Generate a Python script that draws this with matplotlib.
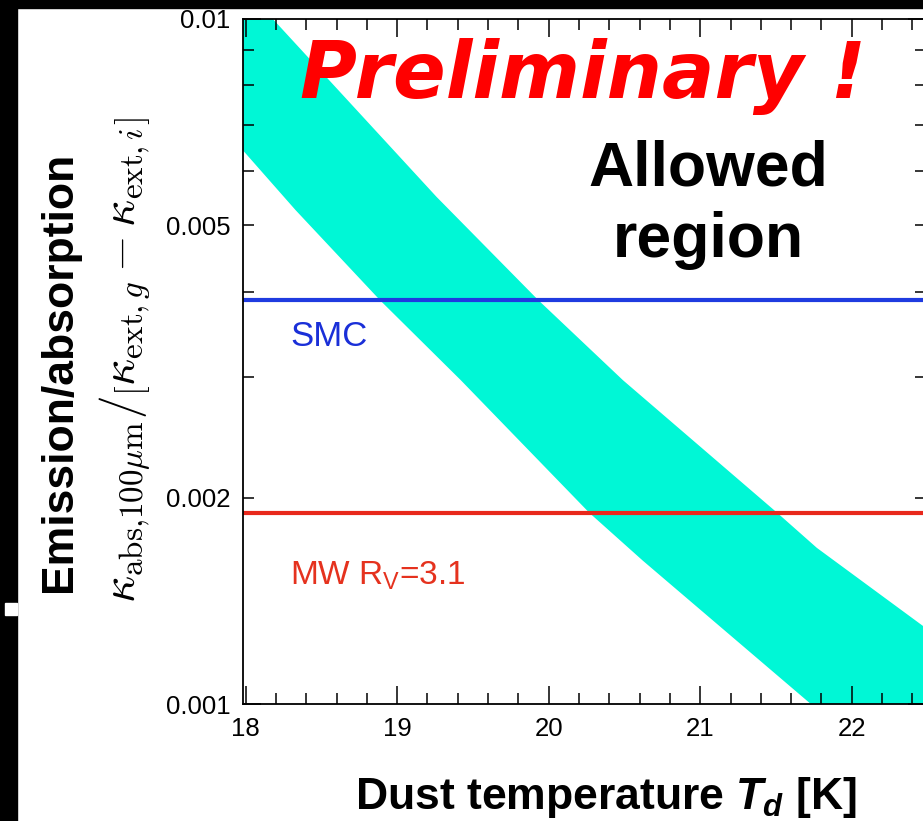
import numpy as np
import matplotlib
matplotlib.use("Agg")
import matplotlib.pyplot as plt
from matplotlib.patches import Rectangle
from matplotlib.ticker import FixedLocator, FixedFormatter, MultipleLocator

plt.rcParams['font.family'] = ['Liberation Sans', 'DejaVu Sans']
plt.rcParams['mathtext.fontset'] = 'custom'
plt.rcParams['mathtext.rm'] = 'Liberation Sans'
plt.rcParams['mathtext.it'] = 'Liberation Sans:italic:bold'
plt.rcParams['mathtext.bf'] = 'Liberation Sans:bold'

# allowed band (dust temperature in K, ratio)
upper_T = [17.98, 18.18, 19.26, 19.93, 20.49, 21.51, 21.77, 22.47, 22.49]
upper_k = [0.0111, 0.0100, 0.00550, 0.00389, 0.00297, 0.00190, 0.00169, 0.00130, 0.00129]
lower_T = [17.98, 18.33, 18.89, 19.42, 20.27, 20.62, 21.73, 22.49]
lower_k = [0.00644, 0.00526, 0.00388, 0.00297, 0.00190, 0.00162, 0.00100, 0.00072]

# reference dust models
smc_value = 0.00389
mw_value = 0.00190

x_range = (17.983, 22.49)
y_range = (0.001, 0.01)
y_major = [0.001, 0.01]
y_minor = [0.002, 0.003, 0.004, 0.005, 0.006, 0.007, 0.008, 0.009]
y_minor_labels = ['0.002', '', '', '0.005', '', '', '', '']

W, H = 923, 821
fig = plt.figure(figsize=(W / 100, H / 100), dpi=100)
ax = fig.add_axes([243 / W, (H - 704) / H, (926 - 243) / W, (704 - 19) / H])

# band
poly_T = upper_T + lower_T[::-1]
poly_k = upper_k + lower_k[::-1]
ax.fill(poly_T, poly_k, color='#00f7d6', lw=0, zorder=1)

ax.axhline(smc_value, color='#1f3be0', lw=3, zorder=2)
ax.axhline(mw_value, color='#e8281c', lw=3, zorder=2)

ax.set_yscale('log')
ax.set_xlim(*x_range)
ax.set_ylim(*y_range)

ax.xaxis.set_major_locator(MultipleLocator(1))
ax.xaxis.set_minor_locator(MultipleLocator(0.2))
ax.yaxis.set_major_locator(FixedLocator(y_major))
ax.yaxis.set_major_formatter(FixedFormatter(['0.001', '0.01']))
ax.yaxis.set_minor_locator(FixedLocator(y_minor))
ax.yaxis.set_minor_formatter(FixedFormatter(y_minor_labels))

ax.tick_params(which='both', direction='in', top=True, right=True, width=1.1,
               labelsize=18.5, colors='black')
ax.tick_params(which='major', length=13)
ax.tick_params(which='minor', length=8)
ax.tick_params(axis='x', which='both', pad=9)
ax.tick_params(axis='y', which='both', pad=9)
for s in ax.spines.values():
    s.set_linewidth(1.3)

# labels
fig.text(60 / W, 1 - 372 / H, 'Emission/absorption', rotation=90, ha='center',
         va='center', fontsize=32, fontweight='bold')
fig.text(125 / W, 1 - 360 / H,
         r'$\kappa_{\mathrm{abs{,}100}\mu\mathrm{m}}/\left[\kappa_{{\rm ext},g} - \kappa_{{\rm ext},i}\right]$',
         rotation=90, ha='center', va='center', fontsize=34, math_fontfamily='cm')
fig.text(606 / W, 1 - 797 / H, r'Dust temperature $T_d$ [K]', ha='center',
         va='center', fontsize=32, fontweight='bold')

fig.text(290 / W, 1 - 346 / H, 'SMC', color='#1a2fd8', fontsize=25,
         ha='left', va='baseline')
fig.text(290 / W, 1 - 585 / H, r'MW R$_{\rm V}$=3.1', color='#e5321e', fontsize=24,
         ha='left', va='baseline')

fig.text(583 / W, 1 - 98 / H, 'Preliminary !', color='red', fontsize=56,
         fontweight='bold', style='oblique', family='DejaVu Sans',
         ha='center', va='baseline')
fig.text(708 / W, 1 - 185 / H, 'Allowed', fontsize=45, fontweight='bold',
         ha='center', va='baseline')
fig.text(708 / W, 1 - 257 / H, 'region', fontsize=45, fontweight='bold',
         ha='center', va='baseline')

# black frame left by the slide crop
fig.patches.append(Rectangle((0, 0), 17 / W, 1, transform=fig.transFigure,
                             color='black', zorder=10))
fig.patches.append(Rectangle((0, 1 - 8 / H), 1, 8 / H, transform=fig.transFigure,
                             color='black', zorder=10))
fig.patches.append(Rectangle((5 / W, 1 - 615 / H), 12 / W, 12 / H,
                             transform=fig.transFigure, color='white', zorder=11))

fig.savefig('out.png', dpi=100)
